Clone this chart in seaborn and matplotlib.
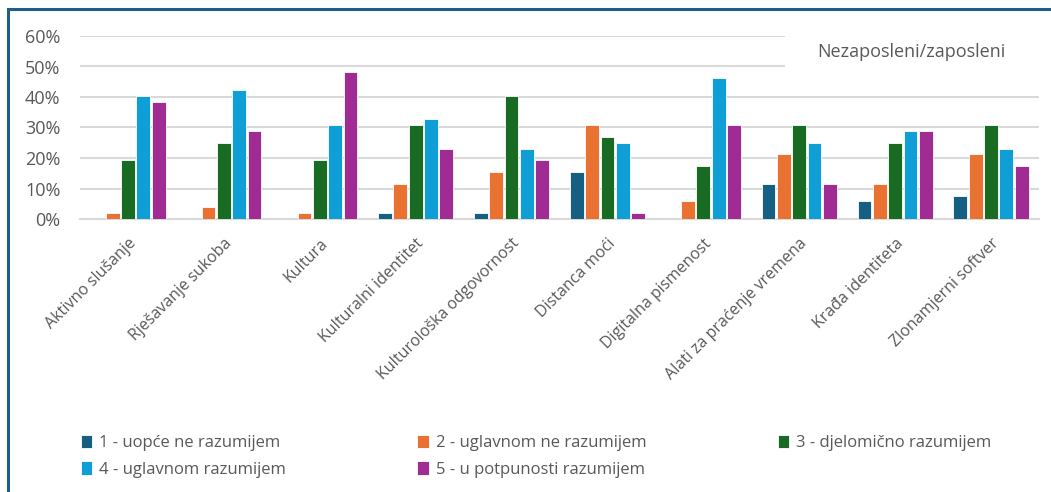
import pandas as pd
import numpy as np
import matplotlib.pyplot as plt
import matplotlib.ticker as mticker
from matplotlib.patches import Rectangle
import seaborn as sns

categories = ["Aktivno slušanje", "Rješavanje sukoba", "Kultura", "Kulturalni identitet",
              "Kulturološka odgovornost", "Distanca moći", "Digitalna pismenost",
              "Alati za praćenje vremena", "Krađa identiteta", "Zlonamjerni softver"]
levels = ["1 - uopće ne razumijem", "2 - uglavnom ne razumijem", "3 - djelomično razumijem",
          "4 - uglavnom razumijem", "5 - u potpunosti razumijem"]
lvl1 = [0.0, 0.0, 0.0, 1.9, 1.9, 15.4, 0.0, 11.5, 5.8, 7.7]
lvl2 = [1.9, 3.8, 1.9, 11.5, 15.4, 30.8, 5.8, 21.2, 11.5, 21.2]
lvl3 = [19.2, 25.0, 19.2, 30.8, 40.4, 26.9, 17.3, 30.8, 25.0, 30.8]
lvl4 = [40.4, 42.3, 30.8, 32.7, 23.1, 25.0, 46.2, 25.0, 28.8, 23.1]
lvl5 = [38.5, 28.8, 48.1, 23.1, 19.2, 1.9, 30.8, 11.5, 28.8, 17.3]
colors = ["#156082", "#E97132", "#196B24", "#0F9ED5", "#A02B93"]

rows = []
for lvl, vals in zip(levels, [lvl1, lvl2, lvl3, lvl4, lvl5]):
    for c, v in zip(categories, vals):
        rows.append({"Kategorija": c, "Razina": lvl, "Udio": v / 100})
df = pd.DataFrame(rows)

sns.set_theme(style="white")
plt.rcParams['font.family'] = ['Open Sans', 'DejaVu Sans']

fig = plt.figure(figsize=(10.51, 4.92), dpi=100)
ax = fig.add_axes([80 / 1051, 1 - 219 / 492, 959 / 1051, 183 / 492])

sns.barplot(data=df, x="Kategorija", y="Udio", hue="Razina", order=categories,
            hue_order=levels, palette=colors, saturation=1, width=0.8, gap=0.1,
            edgecolor="white", linewidth=0.6, ax=ax, legend=True, zorder=3)

ax.set_ylim(0, 0.6)
ax.set_xlim(-0.5, len(categories) - 0.5)
ax.yaxis.set_major_locator(mticker.MultipleLocator(0.1))
ax.yaxis.set_major_formatter(mticker.PercentFormatter(1.0, decimals=0))
ax.grid(axis="y", color="#D9D9D9", linewidth=1.5, zorder=0)
ax.set_axisbelow(True)
for s in ["top", "right", "left"]:
    ax.spines[s].set_visible(False)
ax.spines["bottom"].set_color("#D9D9D9")
ax.spines["bottom"].set_linewidth(1.5)
ax.set_xlabel("")
ax.set_ylabel("")
ax.tick_params(axis="y", labelsize=13, labelcolor="#595959", length=0, pad=14)
ax.tick_params(axis="x", labelsize=11.5, labelcolor="#595959", length=0, pad=12)
plt.setp(ax.get_xticklabels(), rotation=45, ha="right", rotation_mode="anchor")

# white box behind the inner title
ax.add_patch(Rectangle((0.735, 0.76), 0.27, 0.27, transform=ax.transAxes,
                       facecolor="white", edgecolor="none", zorder=2, clip_on=False))
ax.text(0.867, 0.915, "Nezaposleni/zaposleni", transform=ax.transAxes,
        ha="center", va="center", fontsize=13, color="#595959", zorder=4)

handles, labels = ax.get_legend_handles_labels()
ax.get_legend().remove()
# row-wise order like the original (matplotlib fills columns first)
idx = [0, 3, 1, 4, 2]
fig.legend([handles[i] for i in idx], [labels[i] for i in idx], ncol=3, loc="lower left",
           bbox_to_anchor=(74 / 1051, 0.015, 924 / 1051, 0.14), mode="expand",
           frameon=False, labelcolor="#595959", handlelength=0.7, fontsize=12,
           handleheight=0.9, handletextpad=0.4, labelspacing=0.6, borderaxespad=0)

fig.patches.append(Rectangle((8 / 1051, -0.2), 1.2, 1.2 - 9 / 492, transform=fig.transFigure,
                             facecolor="none", edgecolor="#1F5E87", linewidth=2.2,
                             figure=fig))

fig.savefig("out.png", dpi=100)
